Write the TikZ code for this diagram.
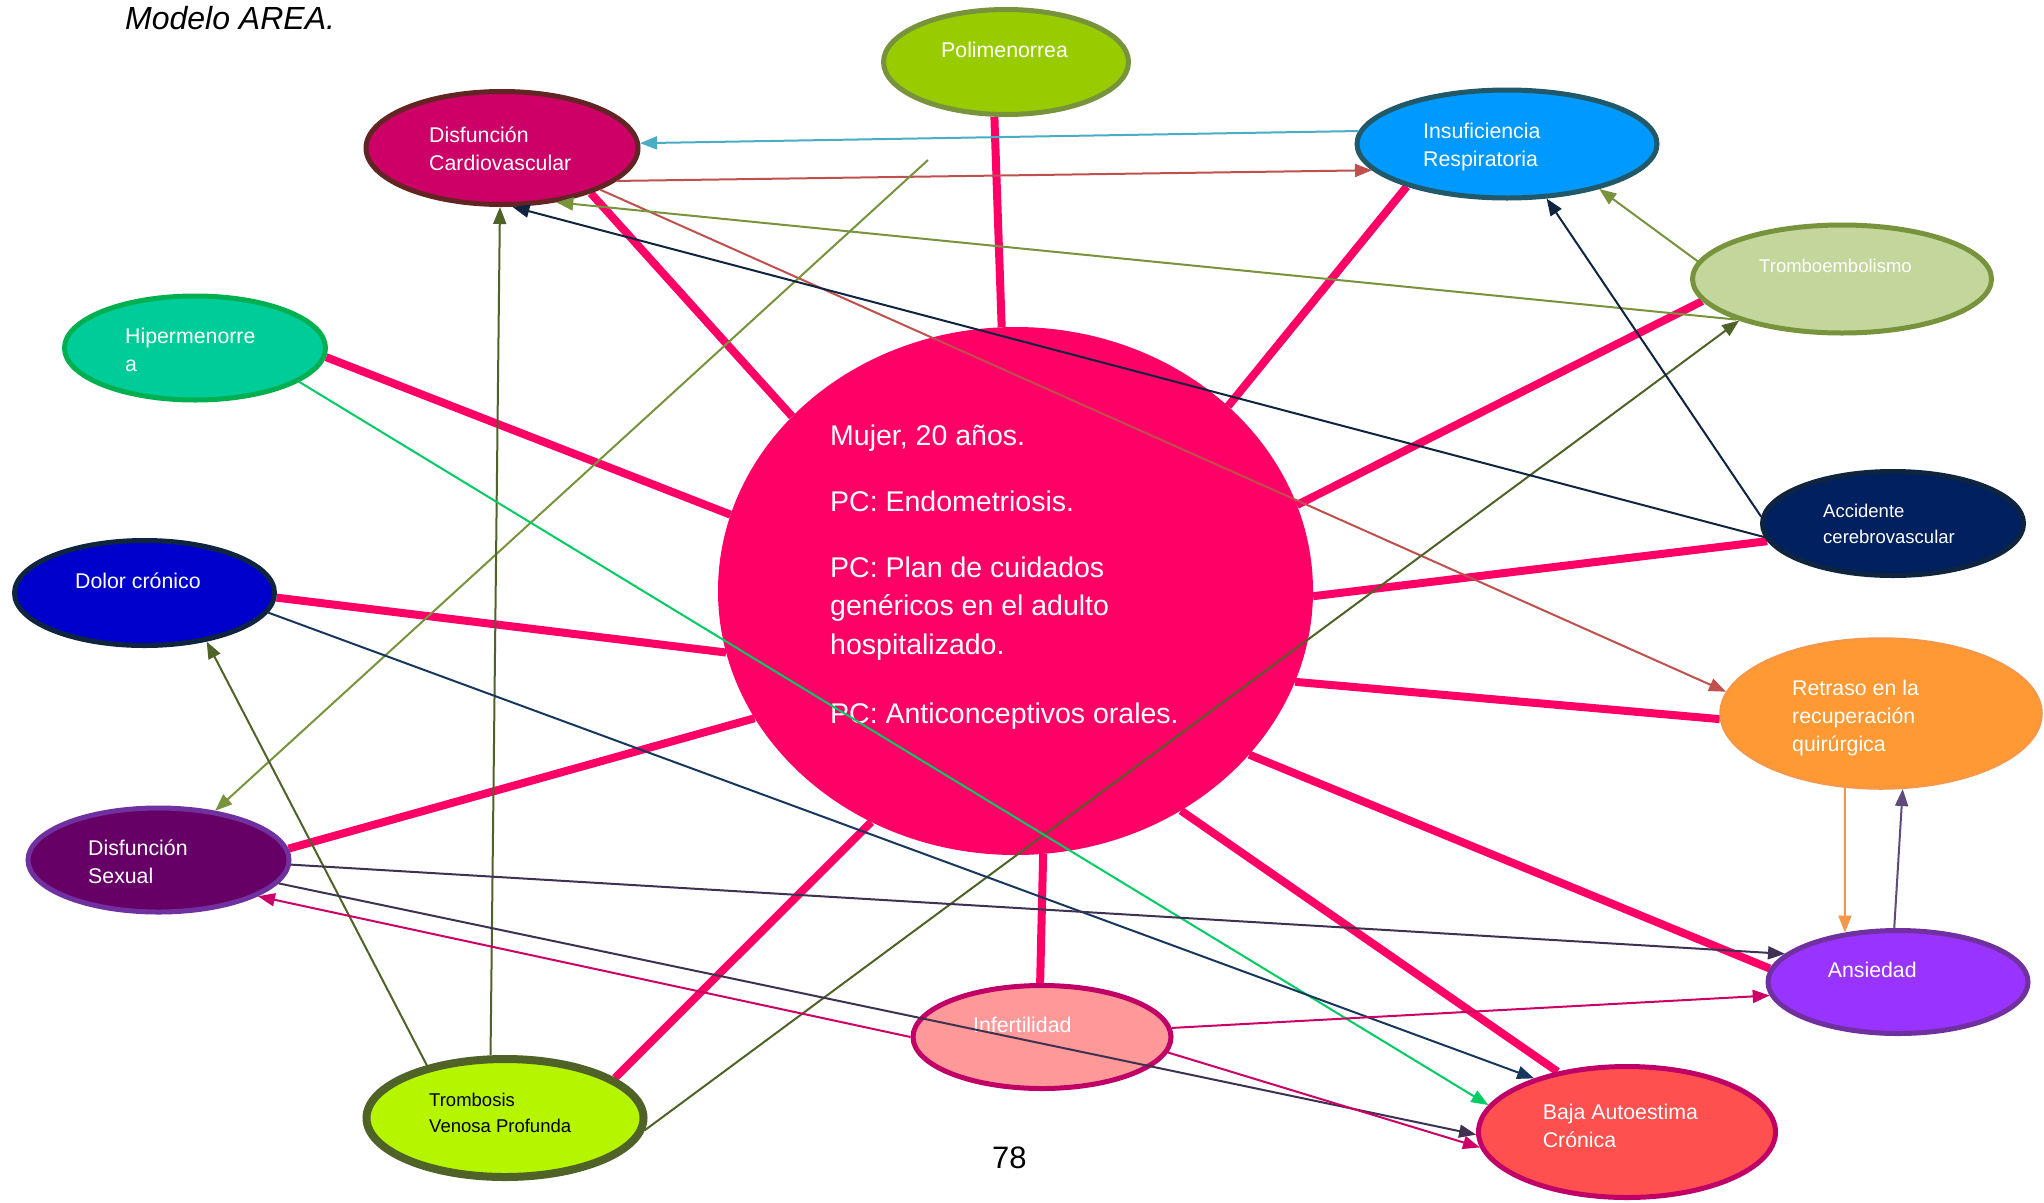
\documentclass[tikz,border=0pt]{standalone}
\usepackage{fontspec}
\setmainfont{Liberation Sans}
\usetikzlibrary{shapes.geometric,arrows.meta}
\definecolor{spk}{HTML}{FF0066}
\definecolor{fpoli}{HTML}{99CC00}
\definecolor{bolive}{HTML}{77933C}
\definecolor{fcardio}{HTML}{CC0066}
\definecolor{bcardio}{HTML}{632523}
\definecolor{finsuf}{HTML}{0099FF}
\definecolor{binsuf}{HTML}{215968}
\definecolor{ftrombo}{HTML}{C3D69B}
\definecolor{fhiper}{HTML}{00CC99}
\definecolor{bhiper}{HTML}{00B050}
\definecolor{fdolor}{HTML}{0000CC}
\definecolor{bnavy}{HTML}{0F243E}
\definecolor{fsexual}{HTML}{660066}
\definecolor{bpurple}{HTML}{7030A0}
\definecolor{ftvp}{HTML}{B5F500}
\definecolor{btvp}{HTML}{4F6228}
\definecolor{finfert}{HTML}{FF9999}
\definecolor{bmag}{HTML}{C00066}
\definecolor{fbaja}{HTML}{FF5050}
\definecolor{fansie}{HTML}{9933FF}
\definecolor{fretraso}{HTML}{FF9933}
\definecolor{bretraso}{HTML}{F79646}
\definecolor{facv}{HTML}{002060}
\definecolor{cblue}{HTML}{4BACC6}
\definecolor{cred}{HTML}{C0504D}
\definecolor{colive}{HTML}{77933C}
\definecolor{cdolive}{HTML}{4F6228}
\definecolor{cnavy}{HTML}{0F243E}
\definecolor{cnavyb}{HTML}{17375E}
\definecolor{cgreen}{HTML}{00CC66}
\definecolor{cpurp}{HTML}{3F3151}
\definecolor{cmag}{HTML}{CC0066}
\definecolor{corange}{HTML}{F79646}
\definecolor{cviolet}{HTML}{604A7B}
\pgfdeclarelayer{bg}
\pgfsetlayers{bg,main}
\begin{document}
\begin{tikzpicture}[x=1pt,y=-1pt,
  bub/.style={ellipse, inner sep=0pt, line width=5pt},
  spoke/.style={line width=8pt, draw=spk,
    preaction={draw=black, opacity=0.15, transform canvas={shift={(2pt,-2.5pt)}}}},
  lbl/.style={anchor=base west, align=left, text=white, inner sep=0pt,
    font=\fontsize{21.3}{28}\selectfont},
  small/.style={font=\fontsize{18.5}{25.5}\selectfont},
  conn/.style={line width=2pt, -{Triangle[length=17pt,width=13pt]}},
  plain/.style={line width=2pt}]
\useasboundingbox (0,0) rectangle (2044,1202);

% centre
\node[ellipse, fill=spk, inner sep=0pt, minimum width=595pt, minimum height=528pt] (ctr) at (1015.5,591) {};

% bubbles
\node[bub, fill=fpoli, draw=bolive, minimum width=245pt, minimum height=105pt] (poli) at (1006,62) {};
\node[bub, fill=fcardio, draw=bcardio, minimum width=272pt, minimum height=113pt] (cardio) at (502,148) {};
\node[bub, fill=finsuf, draw=binsuf, minimum width=300pt, minimum height=108pt] (insuf) at (1507,144) {};
\node[bub, fill=ftrombo, draw=bolive, minimum width=299pt, minimum height=108pt] (trombo) at (1842,279) {};
\node[bub, fill=fhiper, draw=bhiper, minimum width=261pt, minimum height=104pt] (hiper) at (195,348) {};
\node[bub, fill=fdolor, draw=bnavy, minimum width=260pt, minimum height=105pt] (dolor) at (144.5,593) {};
\node[bub, fill=fsexual, draw=bpurple, minimum width=261pt, minimum height=104pt] (sexual) at (158.5,860) {};
\node[bub, fill=ftvp, draw=btvp, line width=8pt, minimum width=277pt, minimum height=118pt] (tvp) at (505,1118) {};
\node[bub, fill=finfert, draw=bmag, minimum width=258pt, minimum height=103pt] (infert) at (1042,1037) {};
\node[bub, fill=fbaja, draw=bmag, minimum width=297pt, minimum height=131pt] (baja) at (1627,1132) {};
\node[bub, fill=fansie, draw=bpurple, minimum width=260pt, minimum height=103pt] (ansie) at (1898,982) {};
\node[bub, fill=fretraso, draw=bretraso, line width=2.5pt, minimum width=321pt, minimum height=150pt] (retraso) at (1881,713.5) {};
\node[bub, fill=facv, draw=bnavy, minimum width=261pt, minimum height=104pt] (acv) at (1893,523.5) {};

% background and spokes
\begin{pgfonlayer}{bg}
\fill[white] (0,0) rectangle (2044,1202);
\draw[spoke] (poli.-102.4) -- (ctr.93.6);
\draw[spoke] (cardio.-27.9) -- (ctr.142.8);
\draw[spoke] (insuf.-157.3) -- (ctr.41.3);
\draw[spoke] (trombo.-171) -- (ctr.17.9);
\draw[spoke] (acv.-172) -- (ctr.-1);
\draw[spoke] (retraso.-178) -- (ctr.-18.2);
\draw[spoke] (ansie.174.4) -- (ctr.-35.7);
\draw[spoke] (baja.139.2) -- (ctr.-53.2);
\draw[spoke] (infert.92.2) -- (ctr.-84.7);
\draw[spoke] (tvp.20.9) -- (ctr.-122.5);
\draw[spoke] (sexual.5.2) -- (ctr.-154.3);
\draw[spoke] (dolor.-2.5) -- (ctr.-168.1);
\draw[spoke] (hiper.-4.05) -- (ctr.165.2);
\end{pgfonlayer}

% texts (base anchor = baseline of the last line)
\node[anchor=base west, inner sep=0pt, font=\fontsize{32}{38}\selectfont\itshape] (title) at (125,29.3) {Modelo AREA.};
\node[anchor=base west, inner sep=0pt, font=\fontsize{31}{36}\selectfont] (page) at (992,1168) {78};
\node[lbl, font=\fontsize{28.5}{38.5}\selectfont] (ctrT) at (830,723)
  {Mujer, 20 años.\\[27pt] PC: Endometriosis.\\[27.5pt] PC: Plan de cuidados\\ genéricos en el adulto\\ hospitalizado.\\[30.5pt] PC: Anticonceptivos orales.};
\node[lbl] (poliT) at (941,57.3) {Polimenorrea};
\node[lbl] (cardioT) at (429,170) {Disfunción\\Cardiovascular};
\node[lbl] (insufT) at (1423,166) {Insuficiencia\\Respiratoria};
\node[lbl, small] (tromboT) at (1759,272) {Tromboembolismo};
\node[lbl] (hiperT) at (125,371) {Hipermenorre\\a};
\node[lbl] (dolorT) at (75,588) {Dolor crónico};
\node[lbl] (sexualT) at (88,883) {Disfunción\\Sexual};
\node[lbl, small, text=black] (tvpT) at (429,1132) {Trombosis\\Venosa Profunda};
\node[lbl] (infertT) at (973,1032) {Infertilidad};
\node[lbl] (bajaT) at (1542.6,1147) {Baja Autoestima\\Crónica};
\node[lbl] (ansieT) at (1827.6,977) {Ansiedad};
\node[lbl] (retrasoT) at (1792,751) {Retraso en la\\recuperación\\quirúrgica};
\node[lbl, small] (acvT) at (1823,543) {Accidente\\cerebrovascular};

% connectors
\coordinate (free) at (928,160);
\draw[conn, draw=cblue] (insuf.175.5) -- (cardio.2.9);
\draw[conn, draw=cred] (cardio.-16.2) -- (insuf.-169.1);
\draw[conn, draw=cred] (cardio.-23.6) -- (retraso.172.1);
\draw[conn, draw=colive] (trombo.-159.85) -- (cardio.-45.5);
\draw[conn, draw=cdolive] (tvp.-5.75) -- (trombo.-158.9);
\draw[conn, draw=colive] (free) -- (sexual.41.3);
\draw[conn, draw=cdolive] (tvp.103.65) -- (cardio.-92.5);
\draw[conn, draw=cdolive] (tvp.146.8) -- (dolor.-38.2);
\draw[conn, draw=cnavy] (acv.-174) -- (cardio.-80.1);
\draw[conn, draw=cnavy] (acv.177.2) -- (insuf.-54);
\draw[conn, draw=cgreen] (hiper.-18.3) -- (baja.169.9);
\draw[conn, draw=cnavyb] (dolor.-9.05) -- (baja.150.7);
\draw[conn, draw=cpurp] (sexual.-2.15) -- (ansie.166.9);
\draw[conn, draw=cpurp] (sexual.-11.3) -- (baja.-179.6);
\draw[conn, draw=cmag] (infert.180.4) -- (sexual.-20.9);
\draw[conn, draw=cmag] (infert.4.3) -- (ansie.186.6);
\draw[conn, draw=cmag] (infert.-7) -- (baja.-174.2);
\draw[conn, draw=corange] (retraso.-116.1) -- (ansie.137);
\draw[conn, draw=cviolet] (ansie.94.3) -- (retraso.-74.5);
\draw[conn, draw=colive] (trombo.173.8) -- (insuf.-26.7);
\end{tikzpicture}
\end{document}
